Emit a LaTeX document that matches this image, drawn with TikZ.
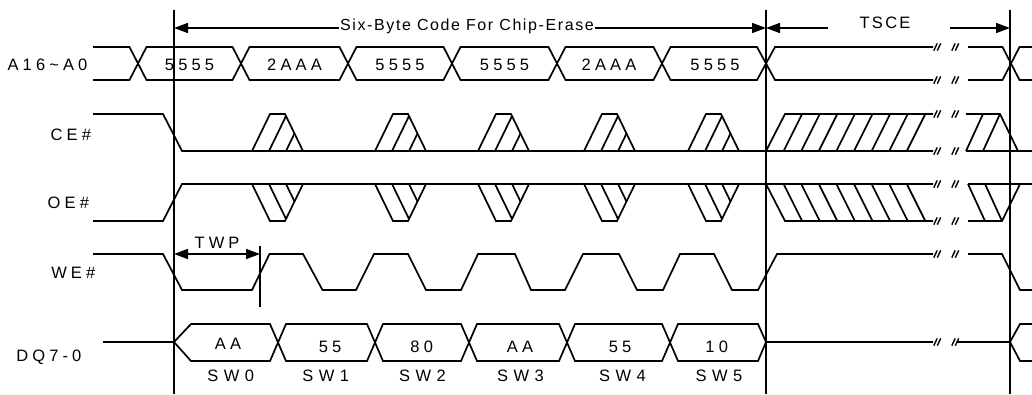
\documentclass[tikz,border=0pt]{standalone}
\usepackage{fontspec}
\usetikzlibrary{arrows.meta}
\newfontfamily\labfont[LetterSpace=25]{Liberation Sans}
\newfontfamily\swfont[LetterSpace=33]{Liberation Sans}
\newfontfamily\ttlfont[LetterSpace=10]{Liberation Sans}
\newfontfamily\tscefont[LetterSpace=14]{Liberation Sans}
\newcommand\cepulse[1]{%
  \draw[sig] (#1,151) -- ++(18,-37) -- ++(15,0) -- ++(18,37);
  \begin{scope}
    \clip (#1,151) -- ++(18,-37) -- ++(15,0) -- ++(18,37) -- cycle;
    \draw[sig] (#1+17,151) -- ++(18,-37);
    \draw[sig] (#1+34,151) -- ++(18,-37);
  \end{scope}}
\newcommand\oepulse[1]{%
  \draw[sig] (#1,184) -- ++(18,37) -- ++(15,0) -- ++(18,-37);
  \begin{scope}
    \clip (#1,184) -- ++(18,37) -- ++(15,0) -- ++(18,-37) -- cycle;
    \draw[sig] (#1+17,184) -- ++(18,37);
    \draw[sig] (#1+34,184) -- ++(18,37);
  \end{scope}}
\newcommand\brkmark[1]{%
  \foreach \bx in {935.5,939,953.5,957}
    \draw[brk] (\bx-1.7,#1+3.6) -- (\bx+1.7,#1-3.6);}
\begin{document}
\begin{tikzpicture}[x=1pt,y=-1pt,
  sig/.style={line width=1.7pt, line join=miter},
  brk/.style={line width=1.4pt},
  vline/.style={line width=1.7pt},
  dim/.style={line width=1.7pt, {Triangle[length=14pt,width=10pt]}-{Triangle[length=14pt,width=10pt]}},
  dimr/.style={line width=1.7pt, -{Triangle[length=14pt,width=10pt]}},
  lbl/.style={font=\labfont\fontsize{16.5}{19}\selectfont, inner sep=0pt, anchor=center},
  swl/.style={font=\swfont\fontsize{16.5}{19}\selectfont, inner sep=0pt, anchor=center},
  ttl/.style={font=\ttlfont\fontsize{16}{19}\selectfont, inner sep=1.5pt, fill=white, anchor=center},
  tsce/.style={font=\tscefont\fontsize{16.5}{19}\selectfont, inner sep=0pt, anchor=center}]
\useasboundingbox (0,0) rectangle (1032,394);
% reference vertical lines
\coordinate (v1t) at (174,10); \coordinate (v1b) at (174,394);
\coordinate (v2t) at (766,10); \coordinate (v2b) at (766,394);
\coordinate (v3t) at (1010,10); \coordinate (v3b) at (1010,394);
\draw[vline] (v1t) -- (v1b);
\draw[vline] (v2t) -- (v2b);
\draw[vline] (v3t) -- (v3b);
% six-byte dimension
\coordinate (sbL) at (174,28); \coordinate (sbR) at (766,28);
\draw[dim] (sbL) -- (sbR);
\node[ttl] (sixbyte) at (467,26) {Six-Byte Code For Chip-Erase};
% TSCE
\coordinate (tsL1) at (828,28); \coordinate (tsR1) at (950,28);
\coordinate (tsR) at (1010,28);
\draw[dimr] (tsL1) -- (sbR);
\draw[dimr] (tsR1) -- (tsR);
\node[tsce] (tsce) at (885,23) {TSCE};
% signal names
\node[lbl] (nA) at (47.5,65) {A16\char`\~A0};
\node[lbl] (nCE) at (70.8,135) {CE\#};
\node[lbl] (nOE) at (68.3,203.3) {OE\#};
\node[lbl] (nWE) at (73.3,273.3) {WE\#};
\node[lbl] (nDQ) at (48.8,357) {DQ7-0};
% address bus
\draw[sig] (93,47) -- (129.5,47) -- (146.5,80) -- (232.5,80) -- (249.5,47) -- (339.5,47) -- (356.5,80) -- (443.5,80) -- (460.5,47) -- (548.5,47) -- (565.5,80) -- (653.5,80) -- (670.5,47) -- (757,47) -- (775,80) -- (933,80);
\draw[sig] (93,80) -- (129.5,80) -- (146.5,47) -- (232.5,47) -- (249.5,80) -- (339.5,80) -- (356.5,47) -- (443.5,47) -- (460.5,80) -- (548.5,80) -- (565.5,47) -- (653.5,47) -- (670.5,80) -- (757,80) -- (775,47) -- (933,47);
\draw[sig] (968,80) -- (1002.5,80) -- (1019.5,47) -- (1032,47);
\draw[sig] (968,47) -- (1002.5,47) -- (1019.5,80) -- (1032,80);
\node[lbl] (a1) at (189.5,65) {5555};
\node[lbl] (a2) at (294.5,65) {2AAA};
\node[lbl] (a3) at (400,65) {5555};
\node[lbl] (a4) at (504.5,65) {5555};
\node[lbl] (a5) at (609,65) {2AAA};
\node[lbl] (a6) at (715,65) {5555};
% CE#
\draw[sig] (93,114) -- (163,114) -- (182,151) -- (933,151);
\draw[sig] (966,151) -- (1032,151);
\cepulse{252}
\cepulse{375}
\cepulse{478}
\cepulse{584}
\cepulse{688}
\draw[sig] (766,151) -- (785,114) -- (933,114);
\foreach \k in {1,...,8} \draw[sig] (766+17.6*\k,151) -- ++(18.5,-37);
\draw[sig] (966,114) -- (1000,114) -- (1018,151);
\draw[sig] (966,151) -- (983,114);
\draw[sig] (983,151) -- (1000,114);
% OE#
\draw[sig] (93,221) -- (163,221) -- (182,184) -- (933,184);
\draw[sig] (968,184) -- (1032,184);
\oepulse{252}
\oepulse{375}
\oepulse{478}
\oepulse{584}
\oepulse{688}
\draw[sig] (766,184) -- (785,221) -- (933,221);
\foreach \k in {1,...,8} \draw[sig] (766+17.6*\k,184) -- ++(18.5,37);
\draw[sig] (968,221) -- (1002,221) -- (1020,184);
\draw[sig] (968,184) -- (985,221);
\draw[sig] (985,184) -- (1002,221);
% WE#
\draw[sig] (93,254) -- (163,254) -- (182,290) -- (252,290) -- (269.5,254) -- (303,254) -- (322.5,290) -- (356,290) -- (374,254) -- (408,254) -- (426,290) -- (461,290) -- (478,254) -- (515,254) -- (531,290) -- (565,290) -- (583,254) -- (619,254) -- (637,290) -- (663,290) -- (680,254) -- (714,254) -- (732,290) -- (758,290) -- (777,254) -- (933,254);
\draw[sig] (968,254) -- (1002,254) -- (1020,290) -- (1032,290);
% TWP
\coordinate (twL) at (174,254); \coordinate (twR) at (260,254);
\coordinate (twT) at (260,246); \coordinate (twB) at (260,307);
\draw[dim] (twL) -- (twR);
\draw[vline] (twT) -- (twB);
\node[lbl] (twp) at (217,243) {TWP};
% DQ
\draw[sig] (103,342) -- (174,342);
\draw[sig] (174,342) -- (191,324) -- (270,324) -- (286,361) -- (367,361) -- (383,324) -- (461,324) -- (477,361) -- (559,361) -- (575,324) -- (662,324) -- (678,361) -- (758,361) -- (766,342) -- (933,342);
\draw[sig] (174,342) -- (191,361) -- (270,361) -- (286,324) -- (367,324) -- (383,361) -- (461,361) -- (477,324) -- (559,324) -- (575,361) -- (662,361) -- (678,324) -- (758,324) -- (766,342);
\draw[sig] (957,342) -- (1010,342) -- (1020,324) -- (1032,324);
\draw[sig] (1010,342) -- (1020,361) -- (1032,361);
\node[lbl] (d1) at (228,343.5) {AA};
\node[lbl] (d2) at (330,347) {55};
\node[lbl] (d3) at (421.7,347) {80};
\node[lbl] (d4) at (520,347) {AA};
\node[lbl] (d5) at (620,347) {55};
\node[lbl] (d6) at (716.7,347) {10};
\node[swl] (s0) at (230.7,375.5) {SW0};
\node[swl] (s1) at (325.7,375.5) {SW1};
\node[swl] (s2) at (422.5,375.5) {SW2};
\node[swl] (s3) at (520.5,375.5) {SW3};
\node[swl] (s4) at (622.5,375.5) {SW4};
\node[swl] (s5) at (719,375.5) {SW5};
% break marks
\brkmark{47}
\brkmark{80}
\brkmark{114}
\brkmark{151}
\brkmark{184}
\brkmark{221}
\brkmark{254}
\brkmark{342}
\end{tikzpicture}
\end{document}
